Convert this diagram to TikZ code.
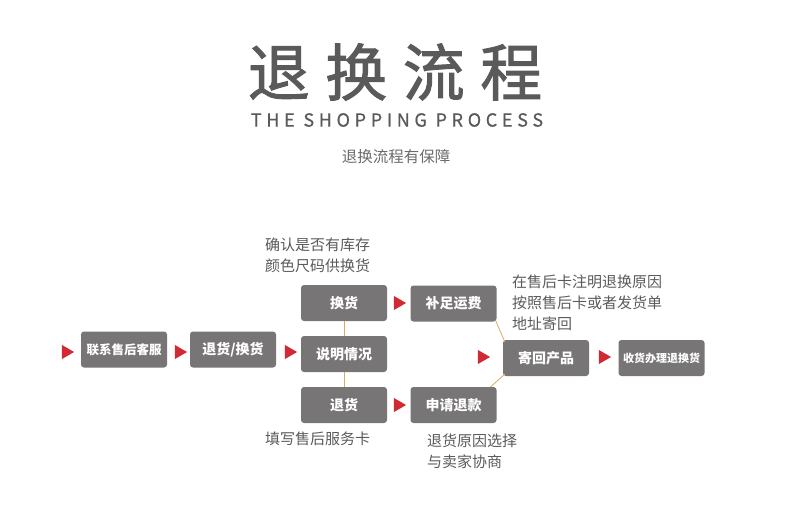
\documentclass[tikz,border=0pt]{standalone}
\usepackage{fontspec}
\setmainfont{Noto Sans CJK SC}
\usepackage{tikz}
\usetikzlibrary{positioning,shapes.geometric}
\definecolor{boxgray}{HTML}{777575}
\definecolor{txtgray}{HTML}{5A5A5A}
\definecolor{arrred}{HTML}{D22A35}
\definecolor{linktan}{HTML}{D9A865}

\tikzset{
  box/.style={draw=none, fill=boxgray, rounded corners=3pt, minimum width=86pt, minimum height=36pt, inner sep=0pt, text=white, font=\bfseries\fontsize{14}{14}\selectfont},
  tri/.style={isosceles triangle, isosceles triangle apex angle=60, fill=arrred, inner sep=0pt, minimum height=12pt, minimum width=14pt},
  note/.style={anchor=west, align=left, text=txtgray, inner sep=0pt, font=\fontsize{15}{21}\selectfont},
  link/.style={draw=linktan, line width=0.8pt}
}

\begin{document}
\begin{tikzpicture}[x=1pt,y=-1pt]
\useasboundingbox (0,0) rectangle (790,519);
% title
\node[text=txtgray, inner sep=0pt, font=\fontsize{62}{62}\selectfont\addfontfeatures{LetterSpace=25,FakeBold=1.5}] (title) at (395,72) {退换流程};
\node[text=txtgray, inner sep=0pt, font=\fontsize{18}{18}\selectfont\addfontfeatures{LetterSpace=26,FakeBold=0.6}] (subtitle) at (397,120) {THE SHOPPING PROCESS};
\node[text=txtgray!90, inner sep=0pt, font=\fontsize{15.5}{15.5}\selectfont] (slogan) at (396,157) {退换流程有保障};

% boxes
\node[box, font=\bfseries\fontsize{12.5}{12.5}\selectfont] (kefu) at (124,349.5) {联系售后客服};
\node[box] (tuihuan) at (233,349.5) {退货/换货};
\node[box] (huan) at (344,303) {换货};
\node[box] (shuoming) at (344,354) {说明情况};
\node[box] (tui) at (344,405) {退货};
\node[box] (buzu) at (453.5,303.5) {补足运费};
\node[box] (shenqing) at (453.5,405) {申请退款};
\node[box] (jihui) at (546,358) {寄回产品};
\node[box, font=\bfseries\fontsize{11}{11}\selectfont] (shouhuo) at (661.5,358) {收货办理退换货};

% red triangles
\node[tri] (t1) at (66,352) {};
\node[tri] (t2) at (179,352) {};
\node[tri] (t3) at (289,352) {};
\node[tri] (t4) at (398,303) {};
\node[tri] (t5) at (398,405) {};
\node[tri] (t6) at (482,357) {};
\node[tri] (t7) at (603,357) {};

% links
\draw[link] (huan.south) -- (shuoming.north);
\draw[link] (shuoming.south) -- (tui.north);
\draw[link] ([xshift=-1pt,yshift=1pt]buzu.south east) -- ([xshift=2pt,yshift=-2pt]jihui.north west);
\draw[link] ([xshift=-6pt]shenqing.north east) -- ([xshift=2pt,yshift=2pt]jihui.south west);

% notes
\node[note] (n1) at (265,255.5) {确认是否有库存\\颜色尺码供换货};
\node[note] (n2) at (265,439) {填写售后服务卡};
\node[note] (n3) at (512,302.5) {在售后卡注明退换原因\\按照售后卡或者发货单\\地址寄回};
\node[note] (n4) at (427,451.5) {退货原因选择\\与卖家协商};
\end{tikzpicture}
\end{document}
